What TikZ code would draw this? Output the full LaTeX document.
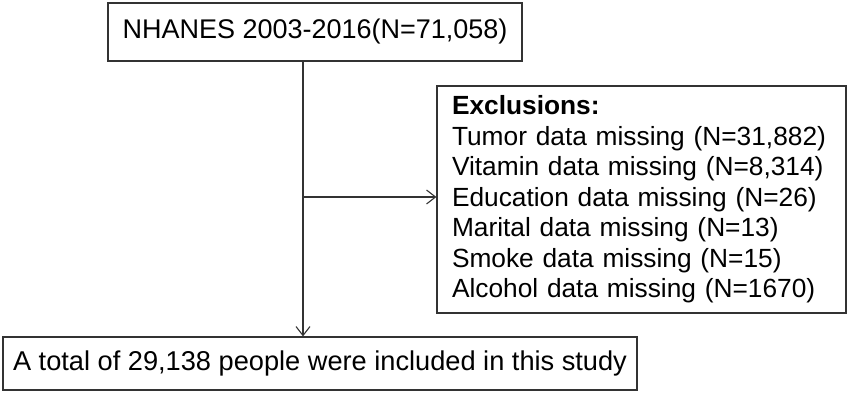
\documentclass[tikz,border=0pt]{standalone}
\usepackage{fontspec}
\setmainfont{Liberation Sans}
\usetikzlibrary{arrows.meta}
\begin{document}
\begin{tikzpicture}[x=1pt,y=-1pt,
  boxstyle/.style={draw=black!80, line width=1.2pt, inner sep=0pt, fill=white},
  conn/.style={draw=black!80, line width=1.1pt},
  arr/.style={conn, -{Straight Barb[length=9pt,width=14pt,line width=1.1pt]}}]
\useasboundingbox (0,0) rectangle (850,394);
\node[boxstyle, minimum width=414pt, minimum height=58pt, font=\fontsize{27}{31}\selectfont] (top) at (315,32) {NHANES 2003-2016(N=71,058)};
\node[boxstyle, minimum width=409pt, minimum height=227pt, text width=379pt, inner xsep=15pt, align=left, font=\fontsize{26.3}{30.5}\selectfont] (excl) at (641.5,199.5) {\textbf{Exclusions:}\\
Tumor data missing (N=31,882)\\
Vitamin data missing (N=8,314)\\
Education data missing (N=26)\\
Marital data missing (N=13)\\
Smoke data missing (N=15)\\
Alcohol data missing (N=1670)};
\node[boxstyle, minimum width=634pt, minimum height=53pt, font=\fontsize{27.2}{31}\selectfont] (bot) at (320,363.5) {A total of 29,138 people were included in this study};
\coordinate (split) at (303,197);
\draw[arr] (top.south -| split) -- (bot.north -| split);
\draw[arr] (split) -- (split -| excl.west);
\end{tikzpicture}
\end{document}
